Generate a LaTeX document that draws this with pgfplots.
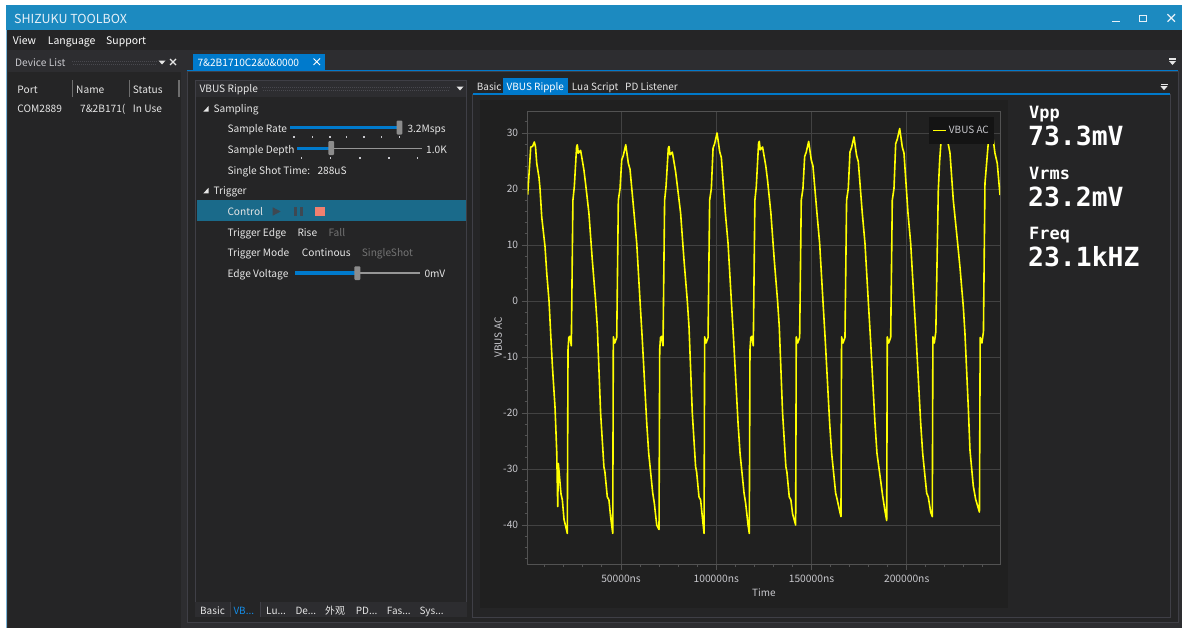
\documentclass[border=0pt]{standalone}
\usepackage{pgfplots}
\pgfplotsset{compat=1.18}
\usepackage{fontspec}
\setmainfont{Noto Sans CJK SC}
\newfontfamily\mono{DejaVu Sans Mono}
\definecolor{titlebar}{RGB}{28,138,192}
\definecolor{titletxt}{RGB}{230,240,248}
\definecolor{menubg}{RGB}{37,37,38}
\definecolor{bgA}{RGB}{45,45,48}
\definecolor{bgB}{RGB}{37,37,38}
\definecolor{plotbg}{RGB}{32,32,32}
\definecolor{panelborder}{RGB}{63,63,70}
\definecolor{accent}{RGB}{0,122,204}
\definecolor{accenttxt}{RGB}{20,140,230}
\definecolor{rowhl}{RGB}{26,106,138}
\definecolor{txt}{RGB}{230,230,230}
\definecolor{txtdim}{RGB}{115,115,115}
\definecolor{gridc}{RGB}{66,66,66}
\definecolor{axisc}{RGB}{82,82,82}
\definecolor{tickc}{RGB}{200,200,205}
\definecolor{legbg}{RGB}{20,20,20}
\definecolor{sig}{RGB}{255,255,0}
\definecolor{thumb}{RGB}{140,140,140}
\definecolor{trackgray}{RGB}{150,150,150}
\definecolor{stopred}{RGB}{240,128,112}
\definecolor{btngray}{RGB}{62,72,82}
\definecolor{dotc}{RGB}{72,72,78}
\definecolor{sepc}{RGB}{110,110,110}
\definecolor{winborder}{RGB}{120,180,215}
\newcommand\ui{\fontsize{10.2}{12}\selectfont}
\tikzset{lbl/.style={anchor=base west, inner sep=0pt, text=txt, font=\ui}}
\begin{document}
\begin{tikzpicture}
\useasboundingbox (0,0) rectangle (1182bp,-628bp);
\begin{scope}[x=1bp,y=-1bp]
% window
\fill[white] (0,0) rectangle (1182,628);
\fill[bgA] (6,30) rectangle (1182,628);
\fill[titlebar] (6,5) rectangle (1182,30);
\fill[menubg] (6,30) rectangle (1182,50);
\draw[winborder] (6.5,30) -- (6.5,628);
\node[lbl, font=\fontsize{12.5}{14}\selectfont, text=titletxt] at (14,23.3) {SHIZUKU TOOLBOX};
\draw[titletxt, line width=1.6] (1112.3,21.7) -- (1120,21.7);
\draw[titletxt, line width=1] (1139.8,15.5) rectangle (1146.5,21.3);
\draw[titletxt, line width=1.6] (1139.8,15.3) -- (1146.5,15.3);
\draw[titletxt, line width=1.3] (1167.5,14.2) -- (1175,21.7) (1175,14.2) -- (1167.5,21.7);
\node[lbl, text=white, font=\fontsize{10.5}{12}\selectfont] at (12.7,44.3) {View};
\node[lbl, text=white, font=\fontsize{10.5}{12}\selectfont] at (47.7,44.3) {Language};
\node[lbl, text=white, font=\fontsize{10.5}{12}\selectfont] at (106,44.3) {Support};
% left panel
\fill[bgB] (8,72) rectangle (181,628);
\node[lbl, text=tickc] at (15,66.7) {Device List};
\draw[dotc, dash pattern=on 1 off 1] (72,61.5) -- (156,61.5) (73,64.5) -- (156,64.5);
\fill[txt] (158.5,60.5) -- (165.5,60.5) -- (162,64.5) -- cycle;
\draw[txt, line width=1.2] (170,59) -- (176,65) (176,59) -- (170,65);
\draw[sepc] (71.7,80) -- (71.7,96.7) (129.3,80) -- (129.3,96.7) (177.8,80) -- (177.8,96.7) (179.5,80) -- (179.5,96.7);
\node[lbl] at (17.3,93.3) {Port};
\node[lbl] at (76,93.3) {Name};
\node[lbl] at (132.7,93.3) {Status};
\node[lbl] at (17.3,112.3) {COM2889};
\node[lbl] at (80,112.3) {7\&2B171(};
\node[lbl] at (132.7,112.3) {In Use};
% document area
\fill[bgB] (187,71) rectangle (1178,622);
\draw[panelborder] (187,71) rectangle (1178,622);
\fill[accent] (193.3,54.3) rectangle (325,70);
\node[lbl, text=white] at (197.3,66.7) {7\&2B1710C2\&0\&0000};
\draw[white, line width=1] (313.5,58.5) -- (320,65) (320,58.5) -- (313.5,65);
\fill[accent] (187,69.5) rectangle (1178,71.3);
\fill[txt] (1169,58.3) rectangle (1176,59.6);
\fill[txt] (1169,61) -- (1176,61) -- (1172.5,65) -- cycle;
% property panel
\fill[bgB] (195,80) rectangle (466.5,602);
\draw[panelborder] (195,80) rectangle (466.5,602);
\fill[bgA] (195.5,80.5) rectangle (466,96.7);
\node[lbl] at (199.3,92.7) {VBUS Ripple};
\draw[dotc, dash pattern=on 1 off 1] (262,87) -- (450,87) (263,90) -- (450,90);
\fill[txt] (456.5,86.5) -- (463.5,86.5) -- (460,90.5) -- cycle;
\fill[txt] (203.3,111.7) -- (208.6,106) -- (208.6,111.7) -- cycle;
\node[lbl] at (213.3,112.5) {Sampling};
\node[lbl] at (227.3,132.7) {Sample Rate};
\draw[accent, line width=3.4] (290,127.5) -- (399,127.5);
\fill[thumb, rounded corners=1] (396.7,120.5) rectangle (402.3,134.5);
\foreach \t in {294,312.3,330,346.7,364,381.7,399.3} {\fill[tickc] (\t-0.6,136.4) rectangle (\t+0.6,138.4);}
\node[lbl] at (407.3,132.7) {3.2Msps};
\node[lbl] at (227.3,153.3) {Sample Depth};
\draw[trackgray, line width=1.6] (331,148.3) -- (421.7,148.3);
\draw[accent, line width=3.4] (297.3,148.3) -- (331,148.3);
\fill[thumb, rounded corners=1] (328.3,141) rectangle (334.1,155);
\foreach \t in {301.7,330.7,360,389,417.7} {\fill[tickc] (\t-0.6,157.4) rectangle (\t+0.6,159.4);}
\node[lbl] at (426,153.3) {1.0K};
\node[lbl] at (227.3,174) {Single Shot Time:};
\node[lbl] at (317.3,174) {288uS};
\fill[txt] (203.3,193.3) -- (208.6,187.8) -- (208.6,193.3) -- cycle;
\node[lbl] at (213.3,194) {Trigger};
\fill[rowhl] (196.7,200) rectangle (466,221);
\node[lbl] at (227.3,215) {Control};
\fill[btngray] (272.7,207.3) -- (280.7,211.5) -- (272.7,215.7) -- cycle;
\fill[btngray] (294,207.3) rectangle (297.4,215.7);
\fill[btngray] (300,207.3) rectangle (303.4,215.7);
\fill[stopred] (315,207.3) rectangle (325,215.7);
\node[lbl] at (227.3,236) {Trigger Edge};
\node[lbl] at (297.3,236) {Rise};
\node[lbl, text=txtdim] at (328.3,236) {Fall};
\node[lbl] at (227.3,256.7) {Trigger Mode};
\node[lbl] at (301.7,256.7) {Continous};
\node[lbl, text=txtdim] at (361.7,256.7) {SingleShot};
\node[lbl] at (227.3,277.3) {Edge Voltage};
\draw[trackgray, line width=1.6] (357,273) -- (420,273);
\draw[accent, line width=3.4] (295,273) -- (357,273);
\fill[thumb, rounded corners=1] (354.4,266.3) rectangle (360.3,280);
\node[lbl] at (424.3,277.3) {0mV};
% bottom tabs
\fill[bgA] (195,602) rectangle (466.5,617);
\fill[bgB] (230,601.5) rectangle (260,617);
\draw[panelborder] (230,617) -- (230,602) (260,602) -- (260,617);
\node[lbl, font=\fontsize{10}{12}\selectfont] at (200,614) {Basic};
\node[lbl, font=\fontsize{10}{12}\selectfont, text=accenttxt] at (233.3,614) {VB...};
\node[lbl, font=\fontsize{10}{12}\selectfont] at (266,614) {Lu...};
\node[lbl, font=\fontsize{10}{12}\selectfont] at (295.3,614) {De...};
\node[lbl, font=\fontsize{10}{12}\selectfont] at (325,614) {外观};
\node[lbl, font=\fontsize{10}{12}\selectfont] at (355.7,614) {PD...};
\node[lbl, font=\fontsize{10}{12}\selectfont] at (386.7,614) {Fas...};
\node[lbl, font=\fontsize{10}{12}\selectfont] at (419.3,614) {Sys...};
% chart panel
\fill[bgB] (472,94) rectangle (1170,617);
\draw[panelborder] (472,94) rectangle (1170,617);
\fill[plotbg] (480,100) rectangle (1008,608);
\fill[accent] (473,93.3) rectangle (1170,95);
\fill[accent] (503.3,78.3) rectangle (567.7,93.3);
\node[lbl, font=\fontsize{10}{12}\selectfont] at (476.7,90.7) {Basic};
\node[lbl, font=\fontsize{10}{12}\selectfont, text=white] at (506.5,90.7) {VBUS Ripple};
\node[lbl, font=\fontsize{10}{12}\selectfont] at (571.7,90.7) {Lua Script};
\node[lbl, font=\fontsize{10}{12}\selectfont] at (625,90.7) {PD Listener};
\fill[txt] (1160.5,83.5) rectangle (1167.5,84.8);
\fill[txt] (1160.5,86.2) -- (1167.5,86.2) -- (1164,90.2) -- cycle;
% readouts
\node[lbl, text=white, font=\mono\bfseries\fontsize{17}{18}\selectfont] at (1029,118.3) {Vpp};
\node[lbl, text=white, font=\mono\bfseries\fontsize{26.5}{28}\selectfont] at (1028,145) {73.3mV};
\node[lbl, text=white, font=\mono\bfseries\fontsize{17}{18}\selectfont] at (1029,179.3) {Vrms};
\node[lbl, text=white, font=\mono\bfseries\fontsize{26.5}{28}\selectfont] at (1028,206) {23.2mV};
\node[lbl, text=white, font=\mono\bfseries\fontsize{17}{18}\selectfont] at (1029,239.5) {Freq};
\node[lbl, text=white, font=\mono\bfseries\fontsize{26.5}{28}\selectfont] at (1028,266.7) {23.1kHZ};
\end{scope}
\begin{axis}[
  at={(527.7bp,-564bp)}, anchor=south west,
  scale only axis, width=472.3bp, height=453bp,
  xmin=1000, xmax=249000, ymin=-46.96, ymax=33.93,
  scaled x ticks=false, scaled y ticks=false,
  axis line style={draw=axisc, line width=1bp},
  grid=major, major grid style={draw=gridc, line width=1bp},
  tick style={draw=axisc, line width=1bp},
  tick align=outside, major tick length=6bp, minor tick length=3bp,
  xtick pos=bottom, ytick pos=left,
  xtick={50000,100000,150000,200000},
  xticklabels={50000ns,100000ns,150000ns,200000ns},
  minor xtick={10000,20000,30000,40000,60000,70000,80000,90000,110000,120000,130000,140000,160000,170000,180000,190000,210000,220000,230000,240000},
  ytick={-40,-30,-20,-10,0,10,20,30},
  yticklabels={-40,-30,-20,-10,0,10,20,30},
  minor ytick={-46,-44,-42,-38,-36,-34,-32,-28,-26,-24,-22,-18,-16,-14,-12,-8,-6,-4,-2,2,4,6,8,12,14,16,18,22,24,26,28,32},
  tick label style={font=\fontsize{10.3}{12}\selectfont, text=tickc},
  xticklabel style={yshift=-2bp},
  xlabel={Time}, ylabel={VBUS AC},
  label style={font=\fontsize{10}{12}\selectfont, text=tickc},
  xlabel style={at={(axis description cs:0.5,-0.0634)}, anchor=center},
  ylabel style={at={(axis description cs:-0.0622,0.5)}, anchor=center},
  legend style={at={(axis description cs:1,1)}, anchor=north east, xshift=-6bp, yshift=-6bp,
    fill=legbg, draw=none, text=tickc, font=\fontsize{10}{12}\selectfont,
    inner xsep=3bp, inner ysep=7bp},
  legend image code/.code={\draw[#1, line width=1.6bp] (0bp,0bp) -- (13bp,0bp);},
  legend cell align=left,
]
\addplot[sig, line width=1.6bp, line join=round, mark=none] table {
1000 19
2594 27.5
3540 27.6
4484 28.4
5114 27.5
5744 24.6
6951 22
7476 20
8369 15
10101 9.7
10994 5
12201 0
13094 -6
14039 -12
15351 -19
16244 -27
16769 -36.7
17084 -29
18501 -34.5
19184 -35.5
20076 -39
21800 -41.5
22168 -8.7
22588 -6.5
23165 -6.3
23900 -8.0
24740 18
25475 20.4
26683 27.6
27050 27.9
27575 26.4
28783 26.9
30515 23.4
31408 20.9
33140 15.7
34925 7.3
36658 0
37550 -4.6
39283 -20
41015 -29.6
41540 -30.5
42800 -35
43640 -35.5
44533 -38.5
45650 -41.5
45965 -6.4
46700 -7.5
47750 -6.5
48590 18
49483 20.1
50375 25.2
51215 26
52475 27.9
53840 24.6
54733 23.5
56833 15.7
58250 10.3
59983 0
61190 -7
63500 -21.8
64550 -27.2
66650 -34.3
67490 -36.1
68750 -40
69950 -40.8
70318 -8.7
70738 -6.5
71315 -6.3
72050 -8.0
72890 18
73625 20.4
74833 27.3
75200 27.6
75725 26.1
76933 26.6
78665 23.1
79558 20.6
81290 15.7
83075 7.3
84808 0
85700 -4.6
87433 -20
89165 -29.6
89690 -30.5
90950 -35
91790 -35.5
92683 -38.5
93600 -41.5
93915 -6.4
94650 -7.5
95700 -6.5
96540 18
97433 20.1
98325 27.3
99165 28.1
100425 30
101790 26.7
102683 25.6
104783 15.7
106200 10.3
107933 0
109140 -7
111450 -21.8
112500 -27.2
114600 -34.3
115440 -36.1
116700 -40
117350 -41.5
117718 -8.7
118138 -6.5
118715 -6.3
119450 -8.0
120290 18
121025 20.4
122233 28.2
122600 28.5
123125 27
124333 27.5
126065 24
126958 21.5
128690 15.7
130475 7.3
132208 0
133100 -4.6
134833 -20
136565 -29.6
137090 -30.5
138350 -35
139190 -35.5
140083 -38
141700 -40
142015 -6.4
142750 -7.5
143800 -6.5
144640 18
145533 20.1
146425 25.8
147265 26.6
148525 28.5
149890 25.2
150783 24.1
152883 15.7
154300 10.3
156033 0
157240 -7
159550 -21.8
160600 -27.2
162700 -34.3
163540 -35.5
164800 -37.5
165500 -38.5
165815 -6.4
166550 -7.5
167600 -6.5
168440 18
169333 20.1
170225 26.6
171065 27.4
172325 29.3
173690 26
174583 24.9
176683 15.7
178100 10.3
179833 0
181040 -7
183350 -21.8
184400 -27.2
186500 -32.5
187340 -34.7
188600 -37.5
189500 -39.2
189815 -6.4
190550 -7.5
191600 -6.5
192440 18
193333 20.1
194225 28.1
195065 28.9
196325 30.8
197690 27.5
198583 26.4
200683 15.7
202100 10.3
203833 0
205040 -7
207350 -21.8
208400 -27.2
210500 -34.3
211340 -35
212600 -37.7
213450 -38.5
213765 -6.4
214500 -7.5
215300 -5.5
216600 19.8
217300 25
218385 30.2
219225 28.6
221010 29.5
222743 26.4
224475 18
226260 12
227993 6
229725 -1
230601 -5.8
232350 -19
233226 -26.6
234959 -33
236219 -35.4
238200 -37.7
238600 -6.5
239500 -7.5
240300 -5.5
241100 21
242840 28.2
244930 30.1
246350 26.4
247560 24.6
249000 18.9
};
\addlegendentry{VBUS AC}
\end{axis}
\end{tikzpicture}
\end{document}
